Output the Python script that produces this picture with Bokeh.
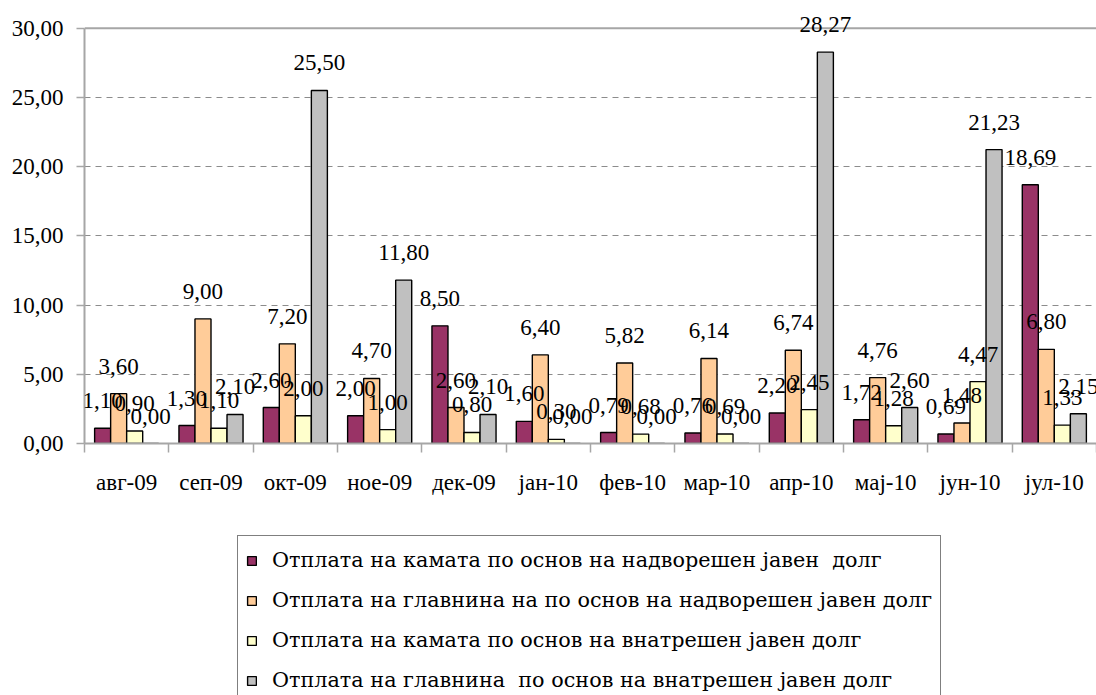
from bokeh.plotting import figure
from bokeh.models import ColumnDataSource, LabelSet, Legend, LegendItem, FixedTicker, Range1d, Span
from bokeh.layouts import column
from bokeh.transform import dodge
from bokeh.embed import file_html
from bokeh.resources import INLINE

months = ["авг-09", "сеп-09", "окт-09", "ное-09", "дек-09", "јан-10",
          "фев-10", "мар-10", "апр-10", "мај-10", "јун-10", "јул-10"]
int_ext = [1.10, 1.30, 2.60, 2.00, 8.50, 1.60, 0.79, 0.76, 2.20, 1.72, 0.69, 18.69]
prin_ext = [3.60, 9.00, 7.20, 4.70, 2.60, 6.40, 5.82, 6.14, 6.74, 4.76, 1.48, 6.80]
int_dom = [0.90, 1.10, 2.00, 1.00, 0.80, 0.30, 0.68, 0.69, 2.45, 1.28, 4.47, 1.33]
prin_dom = [0.00, 2.10, 25.50, 11.80, 2.10, 0.00, 0.00, 0.00, 28.27, 2.60, 21.23, 2.15]
series_names = [
    "Отплата на камата по основ на надворешен јавен  долг",
    "Отплата на главнина на по основ на надворешен јавен долг",
    "Отплата на камата по основ на внатрешен јавен долг",
    "Отплата на главнина  по основ на внатрешен јавен долг",
]
colors = ["#993366", "#FFCC99", "#FFFFCC", "#C0C0C0"]
y_ticks = [0, 5, 10, 15, 20, 25, 30]
y_max = 30

FONT = "Liberation Serif"
FS = "23px"
LFONT = "DejaVu Serif"
LFS = "20.75px"
AXIS_GREY = "#A6A6A6"

def fmt(v):
    return f"{v:.2f}".replace(".", ",")

series = [int_ext, prin_ext, int_dom, prin_dom]
data = {"x": [i + 0.5 for i in range(len(months))]}
for k, s in enumerate(series):
    data[f"s{k}"] = s
    data[f"l{k}"] = [fmt(v) for v in s]
source = ColumnDataSource(data)

p = figure(width=1096, height=533, x_range=Range1d(0, len(months)), y_range=Range1d(0, 32),
           output_backend="svg", toolbar_location=None,
           min_border_left=84, min_border_right=0, min_border_top=0, min_border_bottom=90)
p.outline_line_color = None
p.background_fill_color = "white"

p.xgrid.grid_line_color = None
p.ygrid.grid_line_color = "#8C8C8C"
p.ygrid.grid_line_dash = "6 5"
p.ygrid.grid_line_width = 1

top_line = Span(location=y_max, dimension="width", line_color=AXIS_GREY, line_width=2)
p.add_layout(top_line)

bw = 0.19
for k, s in enumerate(series):
    off = (k - 1.5) * bw
    p.vbar(x=dodge("x", off), top=f"s{k}", width=bw, source=source,
           fill_color=colors[k], line_color="black", line_width=1.4)
for k, s in enumerate(series):
    off = (k - 1.5) * bw
    labels = LabelSet(x=dodge("x", off), y=f"s{k}", text=f"l{k}", source=source,
                      text_align="center", text_baseline="alphabetic", y_offset=20,
                      text_font=FONT, text_font_size=FS, text_color="black")
    p.add_layout(labels)

# x axis
xa = p.xaxis[0]
xa.ticker = FixedTicker(ticks=[i + 0.5 for i in range(len(months))],
                        minor_ticks=list(range(len(months) + 1)))
xa.major_label_overrides = {i + 0.5: m for i, m in enumerate(months)}
xa.major_tick_line_color = None
xa.major_tick_out = 0
xa.major_tick_in = 0
xa.minor_tick_in = 0
xa.minor_tick_out = 9
xa.minor_tick_line_color = AXIS_GREY
xa.minor_tick_line_width = 1.5
xa.axis_line_color = AXIS_GREY
xa.axis_line_width = 2
xa.major_label_standoff = 17
xa.major_label_text_font = FONT
xa.major_label_text_font_size = FS
xa.major_label_text_color = "black"

ya = p.yaxis[0]
ya.ticker = FixedTicker(ticks=y_ticks, minor_ticks=[])
ya.bounds = (0, y_max)
ya.major_label_overrides = {t: fmt(t) for t in y_ticks}
ya.major_tick_in = 0
ya.major_tick_out = 8
ya.major_tick_line_color = AXIS_GREY
ya.major_tick_line_width = 1.5
ya.axis_line_color = AXIS_GREY
ya.axis_line_width = 2
ya.major_label_standoff = 13
ya.major_label_text_font = FONT
ya.major_label_text_font_size = FS
ya.major_label_text_color = "black"

# legend panel: its bar renderers are hidden, only the legend shows
p2 = figure(width=1096, height=162, x_range=Range1d(-20, -19), y_range=Range1d(-20, -19),
            x_axis_type=None, y_axis_type=None, output_backend="svg", toolbar_location=None,
            min_border=0)
p2.outline_line_color = None
p2.xgrid.grid_line_color = None
p2.ygrid.grid_line_color = None
items = []
for k, s in enumerate(series):
    r2 = p2.vbar(x="x", top=f"s{k}", width=bw, source=source,
                 fill_color=colors[k], line_color="black", line_width=1.4)
    r2.visible = False
    items.append(LegendItem(label=series_names[k], renderers=[r2]))

legend = Legend(items=items, location=(153, -10), orientation="vertical",
                label_text_font=LFONT, label_text_font_size=LFS, label_text_color="black",
                glyph_width=11, glyph_height=11, label_height=32, spacing=8,
                padding=8, label_standoff=15, border_line_color="black",
                border_line_width=1, background_fill_color="white",
                background_fill_alpha=1.0, margin=0, inactive_fill_alpha=0.0)
p2.add_layout(legend)

layout = column(p, p2, spacing=0)
open("out.html", "w").write(file_html(layout, INLINE))
